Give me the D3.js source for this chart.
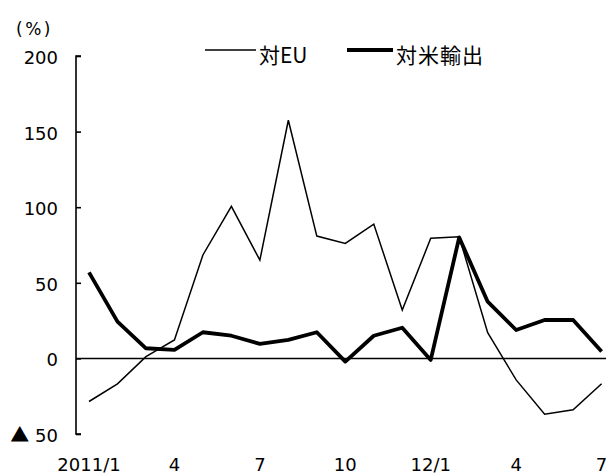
<!DOCTYPE html>
<html><head><meta charset="utf-8">
<script src="https://cdn.jsdelivr.net/npm/d3@7"></script>
<style>
html,body{margin:0;padding:0;background:#fff;}
svg{display:block;font-family:"DejaVu Sans","Noto Sans CJK JP",sans-serif;}
</style></head>
<body>
<svg id="c" width="606" height="475"></svg>
<script>
const months = ["2011/1","2","3","4","5","6","7","8","9","10","11","12","12/1","2","3","4","5","6","7"];
const tickLabels = {0:"2011/1",3:"4",6:"7",9:"10",12:"12/1",15:"4",18:"7"};
const euValues = [-28.5,-16.8,1.2,12.2,68.4,100.6,65,157.5,80.9,76,88.8,32,79.4,80.4,17,-14.2,-36.9,-34,-16.8];
const usValues = [56.9,24.3,6.7,5.6,17.3,15,9.6,12.2,17.3,-2.1,15,20.3,-1,80,37.5,18.8,25.4,25.4,4.5];
const yTicks = [-50,0,50,100,150,200];
const seriesNames = ["対EU","対米輸出"];

const svg = d3.select("#c");
const idx = d3.range(months.length);
const x = d3.scaleLinear().domain([0, 18]).range([89, 601.6]);
const y = d3.scaleLinear().domain([-50, 200]).range([434, 56]);
const axisX = 76;

// y axis
const yAxis = d3.axisRight(y).tickValues(yTicks).tickSize(5).tickFormat("");
const gy = svg.append("g").attr("transform", `translate(${axisX},0)`).call(yAxis);
gy.select(".domain").attr("d", `M5,${y(200)}H0V${y(-50)}H5`).attr("stroke","#000").attr("stroke-width",1.6).attr("fill","none");
gy.selectAll(".tick line").attr("stroke","#000").attr("stroke-width",1.6);

// y labels
const yl = svg.append("g").selectAll("text").data(yTicks).join("text")
  .attr("x", 58).attr("y", d => y(d) + 8)
  .attr("text-anchor","end").attr("font-size",18).attr("fill","#000");
yl.each(function(d){
  const t = d3.select(this);
  if (d < 0) {
    t.append("tspan").attr("font-family","'Noto Sans CJK JP',sans-serif").attr("font-size",19).text("▲");
    t.append("tspan").text(" " + Math.abs(d));
  } else t.text(d);
});

svg.append("text").attr("x", 16).attr("y", 35).attr("font-size",17).attr("letter-spacing",2.5).text("(%)");

// zero line
svg.append("line").attr("x1", axisX).attr("x2", 606).attr("y1", y(0)).attr("y2", y(0))
  .attr("stroke","#000").attr("stroke-width",1.5);

// x labels
svg.append("g").selectAll("text").data(idx.filter(i => tickLabels[i] !== undefined)).join("text")
  .attr("x", i => x(i)).attr("y", 470.5).attr("text-anchor","middle")
  .attr("font-size",18).text(i => tickLabels[i]);

const line = d3.line().x((d,i) => x(i)).y(d => y(d));
svg.append("path").datum(euValues).attr("d", line).attr("fill","none")
  .attr("stroke","#000").attr("stroke-width",1.5).attr("stroke-linejoin","miter");
svg.append("path").datum(usValues).attr("d", line).attr("fill","none")
  .attr("stroke","#000").attr("stroke-width",3.8).attr("stroke-linejoin","round");

// legend
const lg = svg.append("g").attr("font-family","'Noto Sans CJK JP',sans-serif");
lg.append("line").attr("x1",205).attr("x2",256).attr("y1",50).attr("y2",50).attr("stroke","#000").attr("stroke-width",1.5);
lg.append("text").attr("x",259).attr("y",62.5).attr("font-size",21).text(seriesNames[0]);
lg.append("line").attr("x1",347).attr("x2",393).attr("y1",50).attr("y2",50).attr("stroke","#000").attr("stroke-width",3.8);
lg.append("text").attr("x",396).attr("y",62.5).attr("font-size",21).attr("letter-spacing",1).text(seriesNames[1]);
</script>
</body></html>
